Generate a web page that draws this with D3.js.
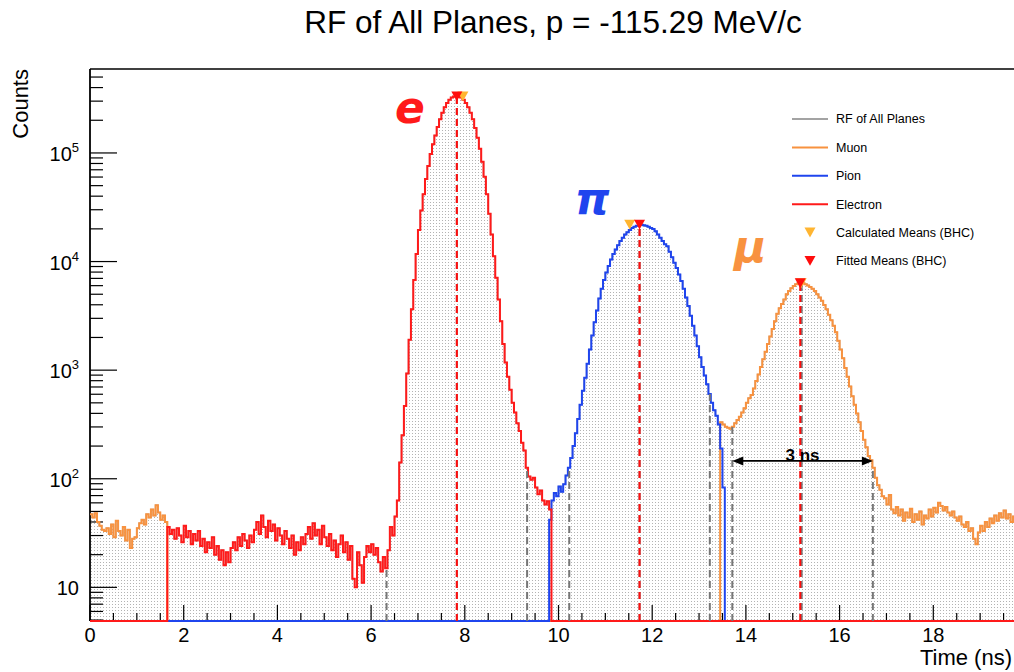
<!DOCTYPE html>
<html>
<head>
<meta charset="utf-8">
<script src="https://cdn.jsdelivr.net/npm/d3@7"></script>
<style>
  html, body { margin: 0; padding: 0; background: #fff; }
  svg { display: block; font-family: "Liberation Sans", Arial, Helvetica, sans-serif; }
</style>
</head>
<body>
<svg id="chart" width="1014" height="672"></svg>
<script>
// ---- Histogram binning (ns) ----
const binWidth = 0.05;
const nBins = 400;

// ---- Counts per bin, split by particle time window ----
const muonLowStart = 0.0;
const muonLowCounts = [47,44,48,40,37,34,33,35,31,38,29,41,33,30,36,27,34,23,28,29,35,39,42,38,47,44,52,46,57,49,42,46,40];

const electronStart = 1.65;
const electronCounts = [
  36,31,34,28,35,30,26,37,29,33,
  25,31,27,33,24,28,21,26,23,29,
  20,24,18,22,16,21,17,23,26,22,
  29,24,31,27,23,30,26,34,40,31,
  46,36,29,41,33,38,27,35,30,25,
  33,28,23,30,20,26,22,29,25,31,
  36,28,39,30,34,25,37,29,24,31,
  22,27,19,25,30,21,26,18,24,12,
  10,21,16,11,19,24,21,25,20,23,
  17,14,19,
  15,22,36,30,45,63,141,251,468,933,
  1905,3631,6761,11750,19500,29510,41690,57540,75860,97720,
  120200,144500,173800,204200,234400,263000,288400,309000,323600,331100,
  331900,330000,323600,309000,288400,263000,234400,204200,169800,138000,
  109600,83180,60260,41690,27540,17780,11220,7079,4467,2818,
  1738,1175,871,661,501,407,324,275,214,182,
  126,105,98,102,83,72,78,63,58,62,
  52
];

const pionStart = 9.80;
const pionCounts = [
  42,63,74,69,85,76,89,107,126,155,
  200,263,355,479,646,851,1148,1549,2089,2754,
  3548,4571,5623,6761,7943,9120,10470,11750,12880,14130,
  15490,16600,17780,18620,19500,20420,20890,21380,21880,21800,
  21630,21380,20890,20420,19950,19050,17780,16600,15490,14450,
  13800,12300,10960,9772,8710,7586,6607,5623,4677,3890,
  3162,2570,2089,1660,1318,1072,891,741,603,501,
  427,380,316,190,83
];

const muonHighStart = 13.45;
const muonHighCounts = [
  331,316,302,295,288,302,324,347,372,407,
  447,501,550,589,676,794,912,1072,1259,1479,
  1738,2042,2399,2818,3311,3715,4074,4467,5012,5370,
  5689,5957,6166,6310,6310,6300,6166,6026,5821,5623,
  5370,5012,4677,4365,3981,3631,3236,2884,2570,2239,
  1862,1549,1288,1047,871,708,575,479,398,331,
  275,229,195,162,148,126,102,87,79,69,
  66,58,71,52,48,
  55,46,52,41,49,44,53,40,47,42,
  50,38,46,43,52,45,54,49,60,56,
  51,55,49,46,50,44,41,45,38,36,
  40,33,35,28,25,32,37,33,40,36,
  43,39,46,41,48,44,51,43,47,40,
  45,42,48,44,46,42
];

// ---- Means and windows (ns): electron, pion, muon ----
const fittedMeans     = [7.83, 11.73, 15.16];
const calculatedMeans = [7.96, 11.52, 15.18];
const centerLines     = [7.83, 11.73, 15.19];
const windowLow       = [6.33, 10.23, 13.71];
const windowHigh      = [9.33, 13.23, 16.71];
const spanText  = "3 ns";
const spanCount = 146;

// ---- Axis ticks ----
const xMajorTicks = [0, 2, 4, 6, 8, 10, 12, 14, 16, 18, 20];
const xTickLabels = ["0", "2", "4", "6", "8", "10", "12", "14", "16", "18"];
const xMinorStep  = 0.5;
const yDecadeExps = [1, 2, 3, 4, 5];

// ---- Legend ----
const legendLines   = ["RF of All Planes", "Muon", "Pion", "Electron"];
const legendMarkers = ["Calculated Means (BHC)", "Fitted Means (BHC)"];

const colors = {
  total: "#a3a3a3",
  muon: "#f8923f",
  pion: "#1f45ee",
  electron: "#ff1a1a",
  calc: "#ffb531",
  fit: "#ff0d0d",
  window: "#777777"
};

// ---- Build full-range arrays ----
function place(start, counts) {
  const a = new Array(nBins).fill(0);
  const i0 = Math.round(start / binWidth);
  counts.forEach((c, k) => { if (i0 + k < nBins) a[i0 + k] = c; });
  return a;
}
const muonHighFull = place(muonHighStart, muonHighCounts);
const muonAll = place(muonLowStart, muonLowCounts).map((v, i) => Math.max(v, muonHighFull[i]));
const electronAll = place(electronStart, electronCounts);
const pionAll = place(pionStart, pionCounts);
const totalAll = d3.range(nBins).map(i => Math.max(muonAll[i], electronAll[i], pionAll[i]));

// ---- Scales ----
const svg = d3.select("#chart");
const x = d3.scaleLinear().domain([0, 20]).range([90, 1027]);
const y = d3.scaleLog().domain([4.9, 5.93e5]).range([621, 69]);
const yBottom = y.range()[0], yTop = y.range()[1];
const xLeft = x.range()[0];

const defs = svg.append("defs");
const pat = defs.append("pattern").attr("id", "dots")
  .attr("width", 3).attr("height", 3).attr("patternUnits", "userSpaceOnUse");
pat.append("rect").attr("width", 3).attr("height", 3).attr("fill", "#fff");
pat.append("rect").attr("x", 1).attr("y", 1).attr("width", 1).attr("height", 1).attr("fill", "#b3b3b3");

defs.append("clipPath").attr("id", "plotClip").append("rect")
  .attr("x", xLeft).attr("y", yTop).attr("width", 1014 - xLeft).attr("height", yBottom - yTop + 1);

function stepPoints(arr) {
  return d3.range(nBins + 1).map(i => [i * binWidth, arr[Math.min(i, nBins - 1)]]);
}
const yOf = v => (v > 0 ? Math.min(y(v), yBottom) : yBottom);
const stepLine = d3.line().curve(d3.curveStepAfter).x(d => x(d[0])).y(d => yOf(d[1]));
const stepArea = d3.area().curve(d3.curveStepAfter).x(d => x(d[0])).y0(yBottom).y1(d => yOf(d[1]));

const plot = svg.append("g").attr("clip-path", "url(#plotClip)");

// Total histogram: dotted fill and grey outline
plot.append("path").attr("d", stepArea(stepPoints(totalAll))).attr("fill", "url(#dots)");
plot.append("path").attr("d", stepLine(stepPoints(totalAll)))
  .attr("fill", "none").attr("stroke", colors.total).attr("stroke-width", 1.5);

// ---- Frame and axes ----
const axes = svg.append("g").attr("stroke", "#000");
axes.append("line").attr("x1", xLeft).attr("x2", 1014).attr("y1", yTop).attr("y2", yTop).attr("stroke-width", 1.5);
axes.append("line").attr("x1", xLeft).attr("x2", xLeft).attr("y1", yTop).attr("y2", yBottom).attr("stroke-width", 1.8);
axes.append("line").attr("x1", xLeft).attr("x2", 1014).attr("y1", yBottom).attr("y2", yBottom).attr("stroke-width", 1.5);

// x ticks (inward)
const xMinor = d3.range(0, 20.001, xMinorStep).filter(t => !xMajorTicks.includes(t));
axes.selectAll(".xmin").data(xMinor).join("line")
  .attr("x1", d => x(d)).attr("x2", d => x(d)).attr("y1", yBottom).attr("y2", yBottom - 8).attr("stroke-width", 1.2);
axes.selectAll(".xmaj").data(xMajorTicks).join("line")
  .attr("x1", d => x(d)).attr("x2", d => x(d)).attr("y1", yBottom).attr("y2", yBottom - 16).attr("stroke-width", 1.2);

// y ticks (inward)
const yMinor = [];
for (let e = 0; e <= 5; e++) for (let k = 2; k <= 9; k++) {
  const v = k * Math.pow(10, e);
  if (v >= y.domain()[0] && v <= y.domain()[1]) yMinor.push(v);
}
axes.selectAll(".ymin").data(yMinor).join("line")
  .attr("x1", xLeft).attr("x2", xLeft + 13).attr("y1", d => y(d)).attr("y2", d => y(d)).attr("stroke-width", 1.2);
axes.selectAll(".ymaj").data(yDecadeExps).join("line")
  .attr("x1", xLeft).attr("x2", xLeft + 27).attr("y1", d => y(Math.pow(10, d))).attr("y2", d => y(Math.pow(10, d))).attr("stroke-width", 1.2);

// tick labels
svg.append("g").selectAll("text").data(xTickLabels).join("text")
  .attr("x", d => x(+d)).attr("y", 642).attr("text-anchor", "middle")
  .attr("font-size", 20).attr("fill", "#000").text(d => d);

const yl = svg.append("g").selectAll("text").data(yDecadeExps).join("text")
  .attr("x", 79).attr("y", d => y(Math.pow(10, d)) + 8).attr("text-anchor", "end")
  .attr("font-size", 20).attr("fill", "#000");
yl.append("tspan").text("10");
yl.filter(d => d > 1).append("tspan").attr("dy", -9).attr("font-size", 13).text(d => d);

// axis titles
svg.append("text").attr("transform", "translate(28,69) rotate(-90)")
  .attr("text-anchor", "end").attr("font-size", 22).text("Counts");
svg.append("text").attr("x", 1012).attr("y", 665).attr("text-anchor", "end")
  .attr("font-size", 22).text("Time (ns)");
svg.append("text").attr("x", 553).attr("y", 33).attr("text-anchor", "middle")
  .attr("font-size", 31.5).text("RF of All Planes, p = -115.29 MeV/c");

// ---- Particle histograms (zero bins sit on the axis) ----
const species = [
  { arr: muonAll, color: colors.muon },
  { arr: pionAll, color: colors.pion },
  { arr: electronAll, color: colors.electron }
];
const lines = svg.append("g").attr("clip-path", "url(#plotClip)");
species.forEach(s => {
  lines.append("path").attr("d", stepLine(stepPoints(s.arr)))
    .attr("fill", "none").attr("stroke", s.color).attr("stroke-width", 2);
});

// ---- Dashed window / mean lines ----
const totalAt = t => totalAll[Math.min(nBins - 1, Math.max(0, Math.floor(t / binWidth)))];
const dash = svg.append("g").attr("clip-path", "url(#plotClip)");
const grayLines = windowLow.concat(windowHigh, centerLines);
dash.selectAll(".gw").data(grayLines).join("line")
  .attr("x1", d => x(d)).attr("x2", d => x(d))
  .attr("y1", yBottom).attr("y2", d => y(totalAt(d)))
  .attr("stroke", colors.window).attr("stroke-width", 2).attr("stroke-dasharray", "7,4");

const peaks = [electronAll, pionAll, muonAll].map(a => d3.max(a));
dash.selectAll(".fm").data(fittedMeans).join("line")
  .attr("x1", d => x(d)).attr("x2", d => x(d))
  .attr("y1", yBottom).attr("y2", (d, i) => y(peaks[i]))
  .attr("stroke", colors.fit).attr("stroke-width", 2).attr("stroke-dasharray", "7,4");

// ---- Mean markers (downward triangles) ----
const tri = (cx, cy, w) => `M${cx - w / 2},${cy - w * 0.45}L${cx + w / 2},${cy - w * 0.45}L${cx},${cy + w * 0.45}Z`;
svg.append("g").selectAll("path").data(calculatedMeans).join("path")
  .attr("d", (d, i) => tri(x(d), y(peaks[i]), 11)).attr("fill", colors.calc);
svg.append("g").selectAll("path").data(fittedMeans).join("path")
  .attr("d", (d, i) => tri(x(d), y(peaks[i]), 11)).attr("fill", colors.fit);

// ---- Window width arrow ----
const ay = y(spanCount);
const ax1 = x(windowLow[2]), ax2 = x(windowHigh[2]);
const arrow = svg.append("g");
arrow.append("line").attr("x1", ax1 + 4).attr("x2", ax2 - 4).attr("y1", ay).attr("y2", ay)
  .attr("stroke", "#000").attr("stroke-width", 1.8);
arrow.append("path").attr("d", `M${ax1},${ay}L${ax1 + 11},${ay - 4.5}L${ax1 + 11},${ay + 4.5}Z`).attr("fill", "#000");
arrow.append("path").attr("d", `M${ax2},${ay}L${ax2 - 11},${ay - 4.5}L${ax2 - 11},${ay + 4.5}Z`).attr("fill", "#000");
arrow.append("text").attr("x", (ax1 + ax2) / 2).attr("y", ay).attr("text-anchor", "middle")
  .attr("font-size", 17).attr("font-weight", "bold").text(spanText);

// ---- Particle labels ----
const particleLabels = [
  { text: "e", t: 6.83, c: 1.9e5, color: colors.electron },
  { text: "\u03C0", t: 10.72, c: 2.74e4, color: colors.pion },
  { text: "\u03BC", t: 14.09, c: 9.9e3, color: colors.muon }
];
svg.append("g").selectAll("text").data(particleLabels).join("text")
  .attr("x", d => x(d.t)).attr("y", d => y(d.c)).attr("text-anchor", "middle")
  .attr("font-family", "'DejaVu Sans', sans-serif").attr("font-weight", "bold").attr("font-style", "italic")
  .attr("font-size", 44).attr("fill", d => d.color).text(d => d.text);

// ---- Legend ----
const leg = svg.append("g").attr("font-size", 12.5);
const legColors = [colors.total, colors.muon, colors.pion, colors.electron];
legendLines.forEach((name, i) => {
  const ly = 119 + i * 28.4;
  leg.append("line").attr("x1", 792).attr("x2", 828).attr("y1", ly).attr("y2", ly)
    .attr("stroke", legColors[i]).attr("stroke-width", 2);
  leg.append("text").attr("x", 836).attr("y", ly).attr("dy", "0.35em").text(name);
});
legendMarkers.forEach((name, i) => {
  const ly = 232.5 + i * 28.4;
  leg.append("path").attr("d", tri(810, ly, 11)).attr("fill", i === 0 ? colors.calc : colors.fit);
  leg.append("text").attr("x", 836).attr("y", ly).attr("dy", "0.35em").text(name);
});
</script>
</body>
</html>
